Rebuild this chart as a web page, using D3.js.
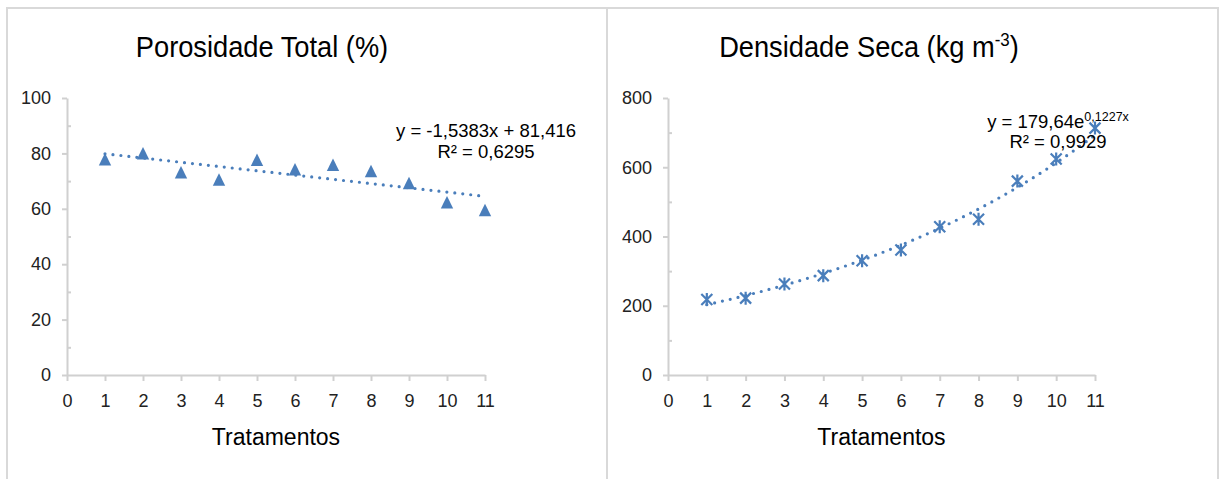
<!DOCTYPE html>
<html>
<head>
<meta charset="utf-8">
<script src="https://cdn.jsdelivr.net/npm/d3@7"></script>
<style>
  body { margin: 0; background: #fff; }
  svg { display: block; font-family: "Liberation Sans", Arial, sans-serif; }
  .tick text { fill: #222; }
</style>
</head>
<body>
<script>
// treatments 1..11
const tratamentos = [1, 2, 3, 4, 5, 6, 7, 8, 9, 10, 11];
// Porosidade Total (%)
const porosidade = [77.6, 79.8, 72.9, 70.3, 77.4, 74.0, 75.6, 73.4, 69.0, 62.1, 59.3];
// Densidade Seca (kg m-3)
const densidade = [218, 222, 263, 287, 330, 361, 428, 450, 560, 624, 713];
// trendline coefficients as printed on the chart
const linCoef = [-1.5383, 81.416];   // y = a*x + b
const expCoef = [179.64, 0.1227];    // y = c*e^(k*x)
const xTicks = d3.range(0, 12);
const yTicksPor = [0, 20, 40, 60, 80, 100];
const yTicksDen = [0, 200, 400, 600, 800];

const W = 1220, H = 479;
const blue = "#4a7ebb";
const axisGray = "#d0d0d0";

const svg = d3.select("body").append("svg")
  .attr("width", W)
  .attr("height", H);

// outer frame + divider
svg.append("path")
  .attr("d", `M7,${H}V8H1218V${H}M607,8V${H}`)
  .attr("fill", "none")
  .attr("stroke", "#d9d9d9")
  .attr("stroke-width", 2);

function panel(opts) {
  const x = d3.scaleLinear().domain([0, 11]).range(opts.xr);
  const y = d3.scaleLinear().domain(opts.yd).range([375, 98]);
  const g = svg.append("g");

  // y minor ticks (inside)
  const minor = d3.range(opts.yd[0], opts.yd[1], opts.minorStep).filter(v => !opts.yTicks.includes(v));
  g.append("g")
    .attr("transform", `translate(${opts.xr[0]},0)`)
    .call(d3.axisLeft(y).tickValues(minor).tickSize(-4).tickFormat(""))
    .call(s => s.select(".domain").remove());

  // y axis
  g.append("g")
    .attr("transform", `translate(${opts.xr[0]},0)`)
    .call(d3.axisLeft(y).tickValues(opts.yTicks).tickSize(5).tickSizeOuter(0).tickPadding(11))
    .call(s => s.selectAll("text").attr("font-size", 18).attr("font-family", "Liberation Sans, Arial"));

  // x axis
  g.append("g")
    .attr("transform", "translate(0,375)")
    .call(d3.axisBottom(x).tickValues(xTicks).tickSize(6).tickSizeOuter(0).tickPadding(13))
    .call(s => s.selectAll("text").attr("font-size", 18).attr("font-family", "Liberation Sans, Arial"));

  g.selectAll(".domain, .tick line").attr("stroke", axisGray).attr("stroke-width", 2);

  // trendline
  const xs = d3.range(1, 11.001, 0.1);
  g.append("path")
    .attr("d", d3.line().x(d => x(d)).y(d => y(opts.fit(d)))(xs))
    .attr("fill", "none")
    .attr("stroke", blue)
    .attr("stroke-width", 3.2)
    .attr("stroke-linecap", "round")
    .attr("stroke-dasharray", "0 8");

  // markers
  const pts = g.selectAll(".pt")
    .data(tratamentos.map((t, i) => [t, opts.values[i]]))
    .join("path")
    .attr("transform", d => `translate(${x(d[0])},${y(d[1])})`);
  if (opts.marker === "triangle") {
    pts.attr("d", "M0,-7L6.2,5.5L-6.2,5.5Z").attr("fill", blue);
  } else {
    pts.attr("d", "M-5.5,-5.5L5.5,5.5M-5.5,5.5L5.5,-5.5M0,-6.5V6.5")
      .attr("fill", "none").attr("stroke", blue).attr("stroke-width", 2.2);
  }

  // title (slightly condensed, like the source rendering)
  const title = g.append("text")
    .attr("transform", `translate(${opts.titleX},57) scale(0.94,1)`)
    .attr("text-anchor", "middle")
    .attr("font-size", 29)
    .attr("fill", "#000");
  opts.title(title);

  // x title
  g.append("text")
    .attr("x", (opts.xr[0] + opts.xr[1]) / 2).attr("y", 445)
    .attr("text-anchor", "middle")
    .attr("font-size", 23)
    .attr("fill", "#000")
    .text("Tratamentos");

  // equation
  const eq = g.append("text")
    .attr("text-anchor", "middle")
    .attr("font-size", 18.5)
    .attr("fill", "#000");
  opts.eq(eq);
}

panel({
  xr: [67, 485], yd: [0, 100], yTicks: yTicksPor, minorStep: 10,
  values: porosidade, marker: "triangle",
  fit: v => linCoef[0] * v + linCoef[1],
  titleX: 262,
  title: t => t.text("Porosidade Total (%)"),
  eq: t => {
    t.append("tspan").attr("x", 486).attr("y", 137).text("y = -1,5383x + 81,416");
    t.append("tspan").attr("x", 486).attr("y", 158).text("R² = 0,6295");
  }
});

panel({
  xr: [668, 1095], yd: [0, 800], yTicks: yTicksDen, minorStep: 100,
  values: densidade, marker: "star",
  fit: v => expCoef[0] * Math.exp(expCoef[1] * v),
  titleX: 869,
  title: t => {
    t.append("tspan").text("Densidade Seca (kg m");
    t.append("tspan").attr("font-size", 18).attr("dy", -11).text("-3");
    t.append("tspan").attr("dy", 11).text(")");
  },
  eq: t => {
    const l1 = t.append("tspan").attr("x", 1058).attr("y", 128);
    l1.append("tspan").text("y = 179,64e");
    l1.append("tspan").attr("font-size", 12.5).attr("dy", -7).text("0,1227x");
    t.append("tspan").attr("x", 1058).attr("y", 148).text("R² = 0,9929");
  }
});
</script>
</body>
</html>
